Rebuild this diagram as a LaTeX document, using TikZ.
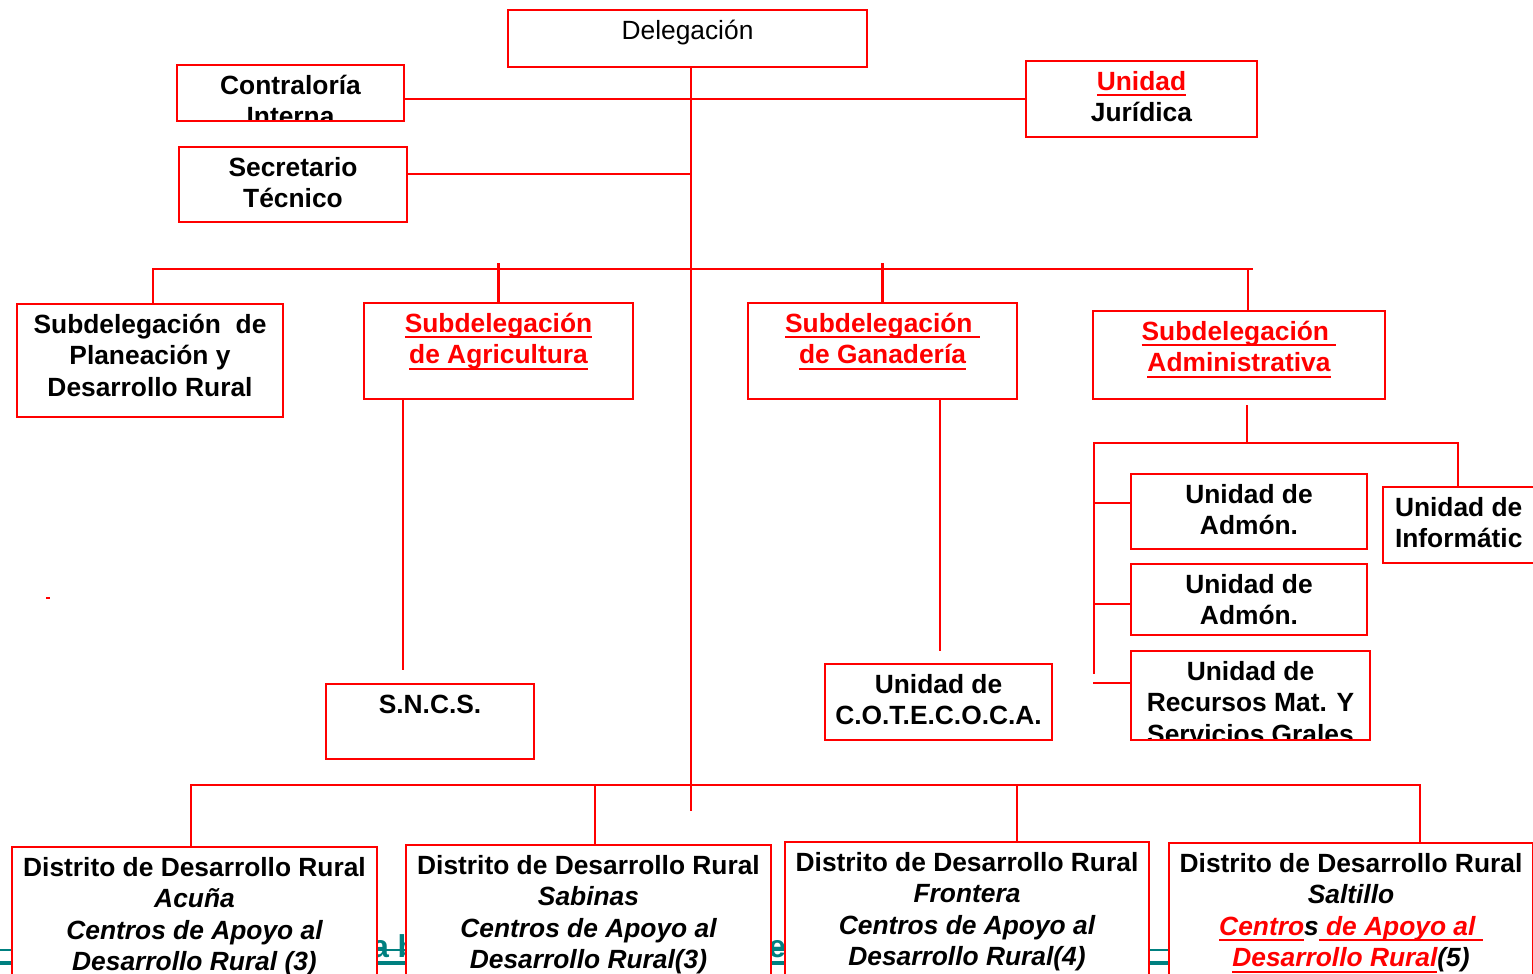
\documentclass[tikz,border=0pt]{standalone}
\usepackage{fontspec}
\setmainfont{Liberation Sans}
\usepackage{tikz}

\newcommand{\redul}[1]{{\color{red}\setbox0\hbox{#1}\rlap{\rule[-3.3pt]{\wd0}{1.1pt}}\box0}}
\newcommand{\boxfont}{\fontsize{15}{17.9}\selectfont\bfseries}

\tikzset{
  orgline/.style={red, line width=1.3pt},
  boxtext/.style={draw=none, fill=none, inner sep=0pt, outer sep=0pt, minimum size=0pt,
    path picture={}, align=center, font=\boxfont, text=black},
  orgbox/.style n args={3}{draw=red, line width=1.6pt, fill=white, inner sep=0pt,
    minimum width=#1, minimum height=#2,
    path picture={\node[boxtext, anchor=north] at (path picture bounding box.north) {\rule{0pt}{16.7pt}#3};}},
  fragtext/.style={text=teal, font=\fontsize{18}{20}\selectfont\bfseries, inner sep=0pt},
}

\begin{document}
\begin{tikzpicture}[x=0.02cm, y=-0.02cm]
\useasboundingbox (0,0) rectangle (1533,973);
\clip (0,0) rectangle (1533,973);

% text lying behind the district boxes
\node[fragtext, anchor=base west] (frag1) at (371,957) {a b};
\node[fragtext, anchor=base west] (frag2) at (768,957) {e};
\draw[teal, line width=0.8pt] (0,950) -- (1168,950);
\draw[teal, line width=2.2pt] (0,963) -- (1168,963);
\fill[red] (46,597) rectangle (50,599);

% top
\node[orgbox={7.18cm}{1.14cm}{\mdseries Delegación}] (deleg) at (687.5,38.5) {};
\node[orgbox={4.54cm}{1.12cm}{Contraloría\\Interna}] (contra) at (290.5,93) {};
\node[orgbox={4.62cm}{1.52cm}{\redul{Unidad}\\Jurídica}] (jurid) at (1141.5,99) {};
\node[orgbox={4.56cm}{1.50cm}{Secretario\\Técnico}] (secre) at (293,184.5) {};

% subdelegaciones
\node[orgbox={5.32cm}{2.26cm}{Subdelegación\ \ de\\Planeación y\\Desarrollo Rural}] (plan) at (150,360.5) {};
\node[orgbox={5.38cm}{1.92cm}{\redul{Subdelegación}\\\redul{de Agricultura}}] (agri) at (498.5,351) {};
\node[orgbox={5.38cm}{1.92cm}{\redul{Subdelegación }\\\redul{de Ganadería}}] (gana) at (882.5,351) {};
\node[orgbox={5.84cm}{1.76cm}{\redul{Subdelegación }\\\redul{Administrativa}}] (admin) at (1239,355) {};

% unidades
\node[orgbox={4.72cm}{1.50cm}{Unidad de\\Admón.}] (admon1) at (1249,511.5) {};
\node[orgbox={4.72cm}{1.42cm}{Unidad de\\Admón.}] (admon2) at (1249,599.5) {};
\node[orgbox={4.78cm}{1.78cm}{Unidad de\\Recursos Mat. Y\\Servicios Grales}] (recur) at (1250.5,695.5) {};
\node[orgbox={3.54cm}{1.52cm}{}] (infor) at (1471.5,525) {};
\node[boxtext, anchor=north west, align=left] (infortxt) at (1395,487) {\rule{0pt}{16.7pt}Unidad de\\Informátic};
\node[orgbox={4.16cm}{1.50cm}{S.N.C.S.}] (sncs) at (430,721.5) {};
\node[orgbox={4.54cm}{1.52cm}{Unidad de\\C.O.T.E.C.O.C.A.}] (cotec) at (938.5,702) {};

% distritos
\node[orgbox={7.30cm}{3.06cm}{Distrito de Desarrollo Rural\\{\itshape Acuña}\\{\itshape Centros de Apoyo al}\\{\itshape Desarrollo Rural (3)}}] (acuna) at (194.5,923.5) {};
\node[orgbox={7.30cm}{3.10cm}{Distrito de Desarrollo Rural\\{\itshape Sabinas}\\{\itshape Centros de Apoyo al}\\{\itshape Desarrollo Rural(3)}}] (sabin) at (588.5,922.5) {};
\node[orgbox={7.28cm}{3.16cm}{Distrito de Desarrollo Rural\\{\itshape Frontera}\\{\itshape Centros de Apoyo al}\\{\itshape Desarrollo Rural(4)}}] (front) at (967,921) {};
\node[orgbox={7.28cm}{3.14cm}{Distrito de Desarrollo Rural\\{\itshape Saltillo}\\{\itshape\redul{Centro}s\redul{ de Apoyo al }}\\{\itshape\redul{Desarrollo Rural}(5)}}] (salt) at (1351,921.5) {};

% lines
\coordinate (trunk) at (691,811);
\draw[orgline] (deleg.south -| trunk) -- (trunk);
\draw[orgline] (contra.east |- jurid.west) -- (jurid.west);
\coordinate (sec) at (691,174);
\draw[orgline] (secre.east |- sec) -- (sec);

\coordinate (busL) at (153,269);
\coordinate (busR) at (1253,269);
\draw[orgline] (plan.north -| busL) -- (busL) -- (busR);
\draw[orgline] (agri.north) -- ++(0,-39);
\draw[orgline] (gana.north) -- ++(0,-39);
\draw[orgline] ([xshift=0.18cm]admin.north) -- ([xshift=0.18cm]admin.north |- busR);

\coordinate (sncsin) at (403,670);
\draw[orgline] (agri.south -| sncsin) -- (sncsin);
\coordinate (cotin) at (940,651);
\draw[orgline] (gana.south -| cotin) -- (cotin);

\coordinate (admL) at (1094,443);
\coordinate (admR) at (1458,443);
\draw[orgline] ([xshift=0.16cm, yshift=-0.1cm]admin.south) -- ([xshift=0.16cm]admin.south |- admL);
\draw[orgline] (infor.north -| admR) -- (admR) -- (admL) -- ++(0,231);
\draw[orgline] ([yshift=0.17cm]admon1.west) -- ++(-37,0);
\draw[orgline] ([yshift=-0.09cm]admon2.west) -- ++(-37,0);
\draw[orgline] ([yshift=0.25cm]recur.west) -- ++(-37,0);

\coordinate (botL) at (191,785);
\coordinate (botR) at (1420,785);
\draw[orgline] (acuna.north -| botL) -- (botL) -- (botR) -- (salt.north -| botR);
\draw[orgline] ([xshift=0.13cm]sabin.north) -- ++(0,-60);
\draw[orgline] ([xshift=1cm]front.north) -- ++(0,-57);
\end{tikzpicture}
\end{document}
